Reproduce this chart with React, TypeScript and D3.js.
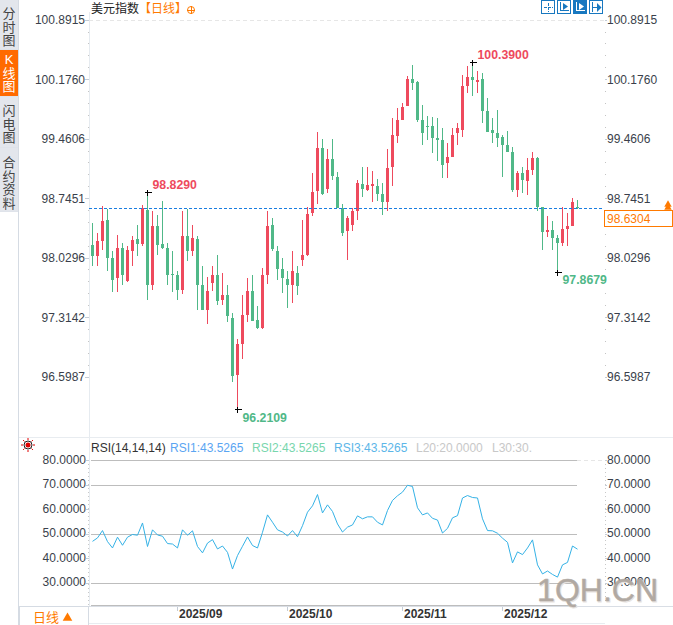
import React, { useRef, useEffect } from 'react';
import * as d3 from 'd3';

const opens = [
  98.19, 98.05, 98.24, 98.49, 98.03, 97.79, 98.15, 97.75, 98.11, 98.26,
  98.2, 98.61, 97.71, 98.41, 98.2, 98.15, 97.84, 97.82, 97.65, 98.29,
  98.12, 98.26, 97.7, 97.41, 97.73, 97.82, 97.52, 97.58, 97.31, 96.62,
  97.0, 97.34, 97.63, 97.29, 97.19, 97.83, 98.43, 98.12, 97.9, 97.78,
  97.71, 97.85, 98.01, 98.07, 98.57, 98.84, 99.35, 98.86, 99.22, 99.01,
  98.63, 98.35, 98.43, 98.59, 98.92, 98.85, 98.9, 98.9, 98.8, 98.71,
  99.13, 99.5, 99.69, 99.86, 100.19, 100.15, 99.69, 99.62, 99.62, 99.47,
  99.45, 99.17, 99.24, 99.53, 99.57, 100.1, 100.21, 100.15, 100.19, 99.8,
  99.57, 99.54, 99.49, 99.39, 99.31, 98.85, 99.05, 98.96, 99.09, 99.23,
  98.64, 98.34, 98.37, 98.27, 98.21, 98.38, 98.42, 98.64,
];
const closes = [
  98.05, 98.23, 98.47, 98.03, 97.76, 98.15, 97.82, 98.13, 98.25, 98.2,
  98.63, 97.7, 98.42, 98.19, 98.15, 97.83, 97.82, 97.65, 98.29, 98.11,
  98.27, 97.7, 97.41, 97.63, 97.82, 97.51, 97.59, 97.33, 96.61, 96.99,
  97.34, 97.63, 97.27, 97.19, 97.83, 98.42, 98.14, 97.9, 97.79, 97.71,
  97.87, 97.69, 98.07, 98.56, 98.83, 99.35, 98.8, 99.22, 99.02, 98.63,
  98.33, 98.51, 98.6, 98.93, 98.86, 98.91, 98.92, 98.8, 98.71, 99.11,
  99.51, 99.69, 99.85, 100.19, 100.14, 99.69, 99.54, 99.61, 99.47, 99.45,
  99.15, 99.25, 99.51, 99.59, 100.1, 100.21, 100.17, 100.17, 99.8, 99.55,
  99.54, 99.48, 99.39, 99.31, 98.85, 99.05, 98.97, 99.09, 99.23, 98.64,
  98.34, 98.37, 98.27, 98.21, 98.38, 98.42, 98.71, 98.6304,
];
const highs = [
  98.45, 98.33, 98.66, 98.62, 98.12, 98.31, 98.21, 98.18, 98.3, 98.43,
  98.67, 98.829, 98.59, 98.55, 98.72, 98.21, 98.12, 97.87, 98.59, 98.62,
  98.43, 98.29, 97.93, 97.8, 97.93, 98.07, 97.85, 97.7, 97.37, 97.06,
  97.59, 97.79, 97.82, 97.45, 97.91, 98.59, 98.51, 98.17, 98.03, 97.88,
  98.12, 97.94, 98.49, 98.65, 99.05, 99.55, 99.46, 99.34, 99.46, 99.07,
  98.68, 98.54, 98.63, 98.97, 99.13, 99.13, 99.08, 98.98, 98.93, 99.34,
  99.72, 99.84, 99.89, 100.22, 100.35, 100.16, 99.87, 99.74, 99.73, 99.71,
  99.59, 99.41, 99.6, 99.66, 100.23, 100.34, 100.39, 100.28, 100.26, 99.96,
  99.71, 99.81, 99.51, 99.56, 99.36, 99.08, 99.13, 99.23, 99.31, 99.25,
  98.64, 98.53, 98.48, 98.31, 98.64, 98.57, 98.75, 98.73,
];
const lows = [
  97.93, 97.94, 98.13, 97.88, 97.62, 97.62, 97.71, 97.74, 97.93, 98.06,
  98.18, 97.53, 97.65, 98.07, 98.14, 97.71, 97.62, 97.52, 97.6, 98.0,
  98.06, 97.41, 97.41, 97.24, 97.63, 97.46, 97.47, 97.26, 96.54, 96.2109,
  96.82, 97.26, 97.27, 97.18, 97.18, 97.72, 98.12, 97.76, 97.61, 97.43,
  97.49, 97.59, 97.93, 98.06, 98.53, 98.68, 98.79, 98.81, 98.97, 98.63,
  98.29, 98.01, 98.36, 98.49, 98.77, 98.84, 98.71, 98.72, 98.55, 98.6,
  98.9, 99.41, 99.69, 99.86, 100.05, 99.67, 99.39, 99.45, 99.29, 99.2,
  98.99, 98.99, 99.24, 99.39, 99.49, 100.02, 99.98, 100.01, 99.66, 99.55,
  99.41, 99.37, 99.01, 99.31, 98.82, 98.76, 98.81, 98.79, 99.03, 98.59,
  98.13, 98.28, 98.13, 97.8679, 98.17, 98.17, 98.41, 98.62,
];
const rsiValues = [
  47.0, 48.4, 51.4, 46.9, 44.3, 48.7, 45.4, 48.7, 49.8, 49.5,
  54.5, 44.9, 51.7, 49.6, 49.1, 46.1, 45.9, 44.3, 51.7, 49.5,
  51.3, 44.9, 42.3, 46.3, 47.7, 43.9, 45.1, 42.5, 35.7, 41.2,
  45.0, 48.8, 45.3, 44.3, 50.7, 57.8, 54.8, 51.7, 50.8, 49.2,
  51.4, 48.9, 53.4, 58.9, 61.5, 66.1, 58.6, 61.9, 59.2, 54.1,
  50.8, 52.8, 53.7, 57.4, 56.2, 57.0, 57.0, 54.8, 53.7, 59.6,
  63.7, 65.6, 67.1, 69.9, 69.4, 60.7, 57.8, 58.6, 56.4, 55.7,
  50.4, 52.3, 56.6, 57.5, 64.7, 65.7, 64.9, 64.7, 56.2, 51.4,
  51.3, 50.3, 48.3, 46.6, 38.2, 42.7, 41.6, 44.3, 47.6, 37.4,
  33.7, 34.9, 33.5, 32.4, 37.4, 38.4, 45.1, 43.8,
];

const priceTicks = [100.8915, 100.176, 99.4606, 98.7451, 98.0296, 97.3142, 96.5987];
const rsiTicks = [80, 70, 60, 50, 40, 30];
const rsiGrid = [80, 70, 50, 30];
const monthLabels = ['2025/09', '2025/10', '2025/11', '2025/12'];
const monthStarts = [17, 39, 62, 82];
const lastPrice = 98.6304;
const sideTabs = [['分', '时', '图'], ['K', '线', '图'], ['闪', '电', '图'], ['合', '约', '资', '料']];
const tabTops = [0, 50, 97, 148];
const tabBottoms = [49, 96, 147, 211];
const tabBaselines = [18, 64, 115, 167];
const legendTexts = ['RSI(14,14,14)', 'RSI1:43.5265', 'RSI2:43.5265', 'RSI3:43.5265', 'L20:20.0000', 'L30:30.'];
const legendX = [91, 170, 252, 334, 416, 492];
const legendColors = ['#333333', '#5aa5f2', '#78d6ad', '#5cb6e8', '#c8c8c8', '#c8c8c8'];

const RED = '#ee4a5d';
const GREEN = '#50b888';
const ORANGE = '#ff7a00';
const FONT = 'Arial, "Liberation Sans", "Noto Sans CJK SC", sans-serif';

const WIDTH = 673;
const HEIGHT = 625;

const App: React.FC = () => {
  const ref = useRef<SVGSVGElement | null>(null);

  useEffect(() => {
    if (!ref.current) return;
    const svg = d3.select<SVGSVGElement, unknown>(ref.current);
    svg.selectAll('*').remove();
    svg.style('font-family', FONT);

    const x = d3.scaleLinear().domain([0, 97]).range([92.5, 577.5]);
    const y = d3.scaleLinear().domain([100.8915, 96.5987]).range([20.2, 377]);
    const yRsi = d3.scaleLinear().domain([80, 30]).range([460.5, 583]);

    const line = (x1: number, y1: number, x2: number, y2: number, stroke: string, dash?: string) =>
      svg.append('line')
        .attr('x1', x1).attr('y1', y1).attr('x2', x2).attr('y2', y2)
        .attr('stroke', stroke)
        .attr('stroke-dasharray', dash ?? null)
        .attr('shape-rendering', 'crispEdges');

    const text = (s: string, tx: number, ty: number, fill: string, size = 12, anchor = 'start', weight = 'normal') =>
      svg.append('text')
        .attr('x', tx).attr('y', ty)
        .attr('fill', fill)
        .attr('font-size', size)
        .attr('font-weight', weight)
        .attr('text-anchor', anchor)
        .text(s);

    // Side tabs
    svg.append('rect').attr('x', 0).attr('y', 0).attr('width', 18).attr('height', 212).attr('fill', '#dfe3ea');
    line(18.5, 0, 18.5, 625, '#d5dbe3');
    sideTabs.forEach((chars, t) => {
      const active = t === 1;
      svg.append('rect')
        .attr('x', 0).attr('y', tabTops[t])
        .attr('width', 18).attr('height', tabBottoms[t] - tabTops[t])
        .attr('fill', active ? '#ff6a00' : '#e3e6ec');
      chars.forEach((c, i) => {
        text(c, 9, tabBaselines[t] + i * 13.7, active ? '#fff' : '#444', 13, 'middle');
      });
    });

    // Panel frame
    line(89.5, 12, 89.5, 606, '#e6ebf0');
    line(19, 437.5, 673, 437.5, '#e8ecf0');
    line(19, 606.5, 673, 606.5, '#d9dee5');
    line(89, 623.5, 605, 623.5, '#e8ecf0');
    line(89, 20.5, 605, 20.5, '#e6e6e6', '4,3');

    // Price axes
    const minorPrices = d3.range(0, 30).map(k => 100.8915 - (k * 0.7155) / 5);
    minorPrices.forEach(p => {
      line(88, y(p), 89, y(p), '#c4c4c4');
      line(605, y(p), 606, y(p), '#c4c4c4');
    });
    priceTicks.forEach(p => {
      text(p.toFixed(4), 85, y(p) + 4, '#3a3f4b', 12, 'end');
      text(p.toFixed(4), 607, y(p) + 4, '#3a3f4b', 12);
      line(85, y(p), 89, y(p), '#c4ccd6');
      line(605, y(p), 607, y(p), '#c4ccd6');
    });

    // Candles
    const candles = d3.range(opens.length);
    svg.append('g').selectAll('line')
      .data(candles)
      .enter()
      .append('line')
      .attr('x1', i => Math.floor(x(i)) + 0.5)
      .attr('x2', i => Math.floor(x(i)) + 0.5)
      .attr('y1', i => y(highs[i]))
      .attr('y2', i => y(lows[i]))
      .attr('stroke', i => (closes[i] >= opens[i] ? RED : GREEN))
      .attr('shape-rendering', 'crispEdges');
    svg.append('g').selectAll('rect')
      .data(candles)
      .enter()
      .append('rect')
      .attr('x', i => Math.floor(x(i)) - 1)
      .attr('width', 3)
      .attr('y', i => y(Math.max(opens[i], closes[i])))
      .attr('height', i => Math.max(1, Math.abs(y(opens[i]) - y(closes[i]))))
      .attr('fill', i => (closes[i] >= opens[i] ? RED : GREEN))
      .attr('shape-rendering', 'crispEdges');

    // High and low markers
    const marker = (i: number, price: number, label: string, color: string, dx: number, dy: number) => {
      const cx = Math.floor(x(i)) + 0.5;
      const cy = Math.round(y(price)) + 0.5;
      line(cx - 3, cy, cx + 4, cy, '#000');
      line(cx, cy - 3, cx, cy + 3, '#000');
      text(label, cx + dx, cy + dy, color, 12.3, 'start', 'bold');
    };
    marker(11, 98.829, '98.8290', RED, 5, -4);
    marker(76, 100.39, '100.3900', RED, 5, -4);
    marker(29, 96.2109, '96.2109', GREEN, 5, 12);
    marker(93, 97.8679, '97.8679', GREEN, 5, 11);

    // Last price
    line(89, Math.round(y(lastPrice)) + 0.5, 604, Math.round(y(lastPrice)) + 0.5, '#1a7de0', '3,2');
    svg.append('rect')
      .attr('x', 604.5).attr('y', 210.5)
      .attr('width', 68).attr('height', 16)
      .attr('fill', '#fff').attr('stroke', ORANGE)
      .attr('shape-rendering', 'crispEdges');
    text(lastPrice.toFixed(4), 607, 223, ORANGE, 12);
    const tri = d3.symbol().type(d3.symbolTriangle).size(24);
    [204.5, 207.5].forEach(ty => {
      svg.append('path').attr('d', tri()).attr('transform', `translate(668,${ty})`).attr('fill', ORANGE);
    });

    // Title
    text('美元指数', 91, 13, '#222', 12);
    text('【日线】', 139, 13, ORANGE, 12);
    svg.append('circle').attr('cx', 191).attr('cy', 10).attr('r', 3.5).attr('fill', 'none').attr('stroke', ORANGE);
    line(187, 10.5, 195, 10.5, ORANGE);
    line(191.5, 6, 191.5, 14, ORANGE);

    // Toolbar icons
    [541, 557, 573, 589].forEach((ix, n) => {
      svg.append('rect')
        .attr('x', ix + 0.5).attr('y', 0.5)
        .attr('width', 13).attr('height', 13)
        .attr('fill', n === 2 ? '#1878c0' : '#fff').attr('stroke', '#1878c0')
        .attr('stroke-width', 1.5)
        .attr('shape-rendering', 'crispEdges');
      const c = n === 2 ? '#fff' : '#1878c0';
      if (n === 0) {
        line(ix + 7.5, 3, ix + 7.5, 12, c, '3,1');
        line(ix + 3, 7.5, ix + 12, 7.5, c, '3,1');
      } else if (n === 3) {
        line(ix + 3.5, 2, ix + 3.5, 12, c);
        line(ix + 4, 7.5, ix + 8, 7.5, c);
        svg.append('path')
          .attr('d', `M${ix + 8},3L${ix + 12.5},7.5L${ix + 8},12Z`)
          .attr('fill', c);
      } else {
        line(ix + 3.5, 2, ix + 3.5, 11, c);
        line(ix + 3, 10.5, ix + 12, 10.5, c);
        svg.append('path')
          .attr('d', `M${ix + 6},3L${ix + 11},6.5L${ix + 6},10Z`)
          .attr('fill', c);
      }
    });

    // RSI panel
    svg.append('circle').attr('cx', 28).attr('cy', 445).attr('r', 2.5).attr('fill', '#e00000');
    svg.append('circle').attr('cx', 28).attr('cy', 445).attr('r', 4).attr('fill', 'none').attr('stroke', '#222');
    d3.range(8).forEach(k => {
      const a = (k * Math.PI) / 4;
      svg.append('line')
        .attr('x1', 28 + Math.cos(a) * 5).attr('y1', 445 + Math.sin(a) * 5)
        .attr('x2', 28 + Math.cos(a) * 7).attr('y2', 445 + Math.sin(a) * 7)
        .attr('stroke', '#e00000');
    });

    legendTexts.forEach((s, i) => text(s, legendX[i], 452, legendColors[i], 12));

    rsiGrid.forEach(v => line(91, yRsi(v), 577, yRsi(v), '#bdbdbd'));
    line(577, yRsi(80), 605, yRsi(80), '#e6e6e6', '4,3');
    line(91, 605.5, 577, 605.5, '#bdbdbd');
    line(88.5, 460, 88.5, 606, '#c8c8c8', '1,3');
    line(605.5, 460, 605.5, 601, '#c8c8c8', '1,3');

    rsiTicks.forEach(v => {
      text(v.toFixed(4), 86, yRsi(v) + 3, '#3a3f4b', 12, 'end');
      text(v.toFixed(4), 607, yRsi(v) + 3, '#3a3f4b', 12);
      line(86, yRsi(v), 89, yRsi(v), '#c4ccd6');
      line(605, yRsi(v), 607, yRsi(v), '#c4ccd6');
    });

    const rsiLine = d3.line<number>().x((_, i) => x(i)).y(d => yRsi(d));
    svg.append('path')
      .attr('d', rsiLine(rsiValues))
      .attr('fill', 'none')
      .attr('stroke', '#35b2e6')
      .attr('stroke-width', 1);

    // Time axis
    monthLabels.forEach((m, i) => {
      const mx = Math.floor(x(monthStarts[i])) + 0.5;
      line(mx, 607, mx, 611, '#c4ccd6');
      text(m, mx + 1.5, 618, '#333', 12, 'start', 'bold');
    });

    // Period selector
    svg.append('rect')
      .attr('x', 19.5).attr('y', 606.5).attr('width', 69).attr('height', 19)
      .attr('fill', '#fff').attr('stroke', '#d5dbe3')
      .attr('shape-rendering', 'crispEdges');
    text('日线', 33, 622, ORANGE, 13);
    svg.append('path')
      .attr('d', d3.symbol().type(d3.symbolTriangle).size(40)())
      .attr('transform', 'translate(67.5,618)')
      .attr('fill', ORANGE);

    // Watermark
    text('1QH.CN', 659, 602, '#e8e4e0', 32, 'end').attr('stroke', '#e8e4e0').attr('stroke-width', 0.8);
    text('1QH.CN', 658, 601, '#a89f98', 32, 'end').attr('stroke', '#a89f98').attr('stroke-width', 0.5).attr('opacity', 0.85);
  }, []);

  return (
    <svg
      ref={ref}
      width={WIDTH}
      height={HEIGHT}
      style={{ position: 'absolute', left: 0, top: 0, background: '#fff' }}
    />
  );
};

export default App;
